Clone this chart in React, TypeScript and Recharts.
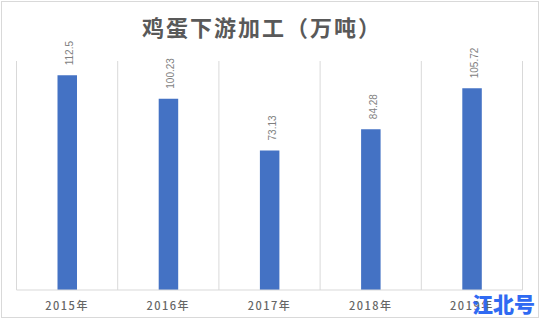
import { BarChart, Bar, XAxis, YAxis, CartesianGrid, LabelList } from 'recharts';

const years = ['2015年', '2016年', '2017年', '2018年', '2019年'];
const output = [112.5, 100.23, 73.13, 84.28, 105.72];
const yDomain = [0, 120];

const data = years.map((year, i) => ({ year, value: output[i] }));

const FONT_CJK = '"Noto Sans CJK SC", "Noto Sans", sans-serif';

// value labels sit above each bar, reading bottom-to-top
function ValueLabel(props: any) {
  const { x, y, width, value } = props;
  const cx = x + width / 2 + 2.5;
  const cy = y - 10;
  return (
    <text
      x={cx}
      y={cy}
      transform={`rotate(-90 ${cx} ${cy})`}
      textAnchor="start"
      dominantBaseline="central"
      fontSize={10}
      fontFamily='"Liberation Sans", Arial, sans-serif'
      fill="#7f7f7f"
    >
      {value}
    </text>
  );
}

function YearTick(props: any) {
  const { x, y, payload } = props;
  return (
    <text
      x={x}
      y={y + 7}
      textAnchor="middle"
      dominantBaseline="central"
      fontSize={11}
      fontWeight={500}
      letterSpacing={1.5}
      fontFamily={FONT_CJK}
      fill="#666666"
    >
      {payload.value}
    </text>
  );
}

// grid lines fall on category boundaries rather than centres
const boundaryLines = ({ offset }: any) => {
  const step = offset.width / years.length;
  return Array.from({ length: years.length + 1 }, (_, i) => offset.left + i * step);
};

export default function App() {
  return (
    <div style={{ position: 'absolute', left: 0, top: 0, width: 540, height: 320, background: '#fff' }}>
      <div
        style={{
          position: 'absolute',
          left: 1,
          top: 1,
          width: 538,
          height: 317,
          border: '1px solid #d9d9d9',
          boxSizing: 'border-box',
        }}
      />
      <div
        style={{
          position: 'absolute',
          left: 0,
          top: 12,
          width: 524,
          textAlign: 'center',
          fontFamily: FONT_CJK,
          fontSize: 22,
          fontWeight: 700,
          letterSpacing: 2,
          color: '#595959',
          lineHeight: '28px',
        }}
      >
        鸡蛋下游加工（万吨）
      </div>
      <BarChart
        width={540}
        height={320}
        data={data}
        margin={{ top: 61, right: 17.5, bottom: 0, left: 16.5 }}
        barSize={19.5}
        style={{ position: 'absolute', left: 0, top: 0 }}
      >
        <CartesianGrid
          horizontal={false}
          stroke="#d9d9d9"
          verticalCoordinatesGenerator={boundaryLines}
        />
        <XAxis
          dataKey="year"
          height={30}
          axisLine={{ stroke: '#d9d9d9' }}
          tickLine={false}
          tick={<YearTick />}
          interval={0}
        />
        <YAxis hide domain={yDomain} />
        <Bar dataKey="value" fill="#4472c4" isAnimationActive={false}>
          <LabelList dataKey="value" content={<ValueLabel />} />
        </Bar>
      </BarChart>
      <div
        style={{
          position: 'absolute',
          left: 472,
          top: 291,
          fontFamily: FONT_CJK,
          fontSize: 21,
          fontWeight: 900,
          color: '#2f6af2',
          lineHeight: '25px',
          letterSpacing: 0,
        }}
      >
        江北号
      </div>
    </div>
  );
}
